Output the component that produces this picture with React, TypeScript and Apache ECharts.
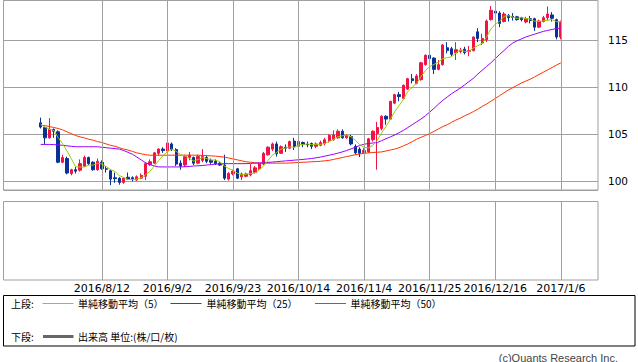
import React, { useEffect, useRef } from 'react';
import * as echarts from 'echarts';

// ---- data ----
const START_DATE = '2016/7/13';
const END_DATE = '2017/1/18';
const FIRST_CANDLE = '2016/7/25';
const tickLabels = ['2016/8/12', '2016/9/2', '2016/9/23', '2016/10/14', '2016/11/4', '2016/11/25', '2016/12/16', '2017/1/6'];
const yMin = 99.04;
const yMax = 119.24;

// closes of the four sessions before the first visible candle (for the 5-day average)
const priorCloses = [106.2, 106.5, 106.0, 105.8];

// [open, close, low, high]
const ohlc: number[][] = [
  [106.2, 105.75, 105.6, 106.75], [105.7, 104.6, 103.95, 105.8], [104.6, 105.5, 104.5, 106.7], [105.5, 105.3, 104.6, 105.6], [105.25, 102.0, 101.9, 105.4],
  [102.0, 102.5, 101.9, 102.8], [102.4, 100.85, 100.7, 102.6], [100.8, 101.2, 100.6, 101.3], [101.2, 101.05, 100.8, 101.5], [101.15, 101.85, 101.0, 102.3],
  [101.6, 102.5, 101.5, 102.7], [102.5, 101.85, 101.7, 102.6], [102.0, 101.2, 101.1, 102.1], [101.2, 102.1, 101.1, 102.4], [102.0, 101.3, 101.2, 102.2],
  [101.3, 101.25, 100.9, 101.6], [101.1, 100.2, 99.55, 101.2], [100.35, 100.25, 99.8, 100.9], [100.3, 99.85, 99.6, 100.4], [99.85, 100.3, 99.7, 100.4],
  [100.4, 100.2, 100.1, 100.9], [100.35, 100.2, 99.95, 100.5], [100.1, 100.45, 100.0, 100.6], [100.3, 100.6, 100.2, 100.8], [100.5, 101.85, 100.1, 102.0],
  [101.75, 102.05, 101.6, 102.3], [101.9, 103.0, 101.8, 103.1], [102.95, 103.4, 102.7, 103.5], [103.4, 103.25, 103.0, 103.6], [103.2, 104.05, 102.9, 104.3],
  [103.95, 103.35, 103.2, 104.1], [103.35, 101.8, 101.6, 103.5], [101.9, 101.6, 101.2, 102.2], [101.7, 102.6, 101.5, 102.8], [102.5, 102.75, 102.2, 103.1],
  [102.5, 101.9, 101.7, 102.6], [101.9, 102.6, 101.8, 102.8], [102.2, 102.6, 102.0, 103.4], [102.5, 102.1, 101.9, 102.7], [102.2, 102.0, 101.8, 102.4],
  [102.1, 101.85, 101.7, 102.3], [101.9, 101.7, 101.6, 102.0], [101.7, 100.3, 100.1, 102.8], [100.2, 100.8, 100.05, 100.95], [100.75, 101.05, 100.6, 101.2],
  [101.3, 100.3, 100.2, 101.4], [100.45, 100.75, 100.1, 100.9], [100.5, 100.75, 100.4, 100.9], [100.65, 101.1, 100.5, 101.8], [100.9, 101.4, 100.8, 101.6],
  [101.3, 101.85, 101.2, 102.0], [101.8, 102.95, 101.7, 103.1], [102.8, 103.6, 102.7, 103.7], [103.4, 103.95, 103.2, 104.1], [103.95, 102.9, 102.6, 104.2],
  [102.95, 103.65, 102.9, 103.8], [103.6, 103.5, 103.1, 103.9], [103.5, 104.2, 103.4, 104.3], [104.25, 103.65, 103.3, 104.6], [103.7, 104.2, 103.6, 104.4],
  [104.1, 103.9, 103.6, 104.2], [103.9, 103.85, 103.6, 104.2], [104.0, 103.7, 103.4, 104.1], [103.7, 103.95, 103.5, 104.1], [103.8, 104.1, 103.7, 104.3],
  [104.0, 104.4, 103.8, 104.6], [104.3, 104.85, 104.1, 105.0], [104.4, 104.9, 104.3, 105.4], [104.6, 105.3, 104.5, 105.5], [105.3, 104.6, 104.5, 105.5],
  [104.6, 104.85, 104.5, 105.0], [104.75, 103.95, 103.8, 104.9], [103.7, 103.0, 102.8, 103.9], [103.4, 102.95, 102.55, 103.6], [103.0, 103.25, 102.9, 103.5],
  [103.1, 104.5, 103.0, 104.6], [104.4, 105.3, 104.2, 105.4], [105.05, 105.7, 101.2, 106.3], [105.6, 106.9, 105.4, 107.0], [106.9, 106.6, 106.0, 107.0],
  [106.6, 108.5, 106.5, 108.5], [108.3, 109.2, 108.2, 109.3], [109.2, 109.0, 108.5, 109.5], [108.8, 110.2, 108.7, 110.3], [109.8, 110.9, 109.7, 111.0],
  [110.9, 110.7, 110.4, 111.4], [110.4, 111.2, 110.3, 111.4], [110.8, 112.6, 110.7, 112.7], [112.4, 113.4, 112.3, 113.5], [113.4, 113.05, 112.4, 113.9],
  [113.1, 111.9, 111.4, 113.2], [111.9, 112.4, 111.8, 112.9], [112.4, 114.5, 112.3, 114.6], [114.2, 113.9, 113.6, 114.8], [114.1, 113.5, 113.3, 114.3],
  [113.65, 114.0, 112.9, 114.8], [113.8, 113.95, 113.6, 114.2], [114.05, 113.7, 113.5, 114.3], [113.8, 113.9, 113.3, 114.4], [113.9, 115.35, 113.8, 115.4],
  [115.9, 115.2, 114.8, 116.3], [114.7, 115.2, 114.5, 115.7], [115.05, 117.05, 114.8, 117.2], [117.2, 118.2, 117.1, 118.65], [118.1, 117.9, 117.2, 118.6],
  [117.9, 116.8, 116.4, 118.1], [117.0, 117.8, 116.9, 118.0], [117.65, 117.4, 117.0, 117.8], [117.55, 117.45, 117.1, 117.9], [117.5, 117.2, 117.1, 117.6],
  [117.4, 117.2, 117.0, 117.5], [116.95, 117.3, 116.8, 117.5], [117.3, 117.1, 116.8, 117.6], [117.3, 116.4, 116.0, 117.4], [116.4, 117.05, 116.3, 117.2],
  [117.0, 117.4, 116.9, 117.6], [117.4, 117.8, 117.1, 118.6], [117.7, 117.35, 117.0, 118.0], [117.2, 115.35, 115.1, 117.3], [115.35, 116.95, 115.1, 117.1],
];

const ma25: number[] = [
  103.9, 103.9, 103.9, 103.88, 103.85, 103.8, 103.75, 103.7, 103.65, 103.65, 103.65, 103.65, 103.65, 103.65, 103.6, 103.55, 103.5, 103.45, 103.4,
  103.25, 103.05, 102.85, 102.55, 102.25, 101.95, 101.75, 101.6, 101.5,
  101.5, 101.5, 101.5, 101.5, 101.5, 101.52, 101.55, 101.6, 101.62, 101.65, 101.7, 101.75, 101.8, 101.82,
  101.85, 101.85, 101.85, 101.85, 101.85, 101.85, 101.87, 101.9, 101.92, 101.95,
  101.98, 102.02, 102.06, 102.1, 102.14, 102.18, 102.22, 102.26,
  102.3, 102.35, 102.4, 102.47, 102.55, 102.65, 102.75, 102.85, 102.97, 103.1, 103.25, 103.42,
  103.6, 103.78, 103.92, 104.0, 104.05, 104.1, 104.3, 104.5, 104.7, 104.9, 105.15, 105.4, 105.7, 106.0, 106.3, 106.6,
  106.95, 107.35, 107.75, 108.2, 108.6, 108.95, 109.3, 109.6, 109.9, 110.25, 110.6, 110.95, 111.4, 111.8, 112.2, 112.6,
  113.05, 113.5, 113.9, 114.35, 114.7, 114.95, 115.15, 115.35, 115.5, 115.65, 115.8, 115.95, 116.05, 116.15, 116.25, 116.3,
];

const ma50: number[] = [
  105.95, 105.9, 105.8, 105.7, 105.6, 105.45, 105.25, 105.05, 104.85, 104.7, 104.6, 104.45, 104.35, 104.2, 104.1, 103.95, 103.8, 103.7, 103.55, 103.4,
  103.3, 103.15, 103.0, 102.9, 102.8, 102.75, 102.75, 102.75, 102.75, 102.75, 102.75, 102.75, 102.75, 102.75, 102.75, 102.75, 102.75, 102.72, 102.7, 102.68,
  102.65, 102.6, 102.55, 102.45, 102.35, 102.25, 102.15, 102.05, 102.0, 101.95, 101.9, 101.9, 101.9, 101.9, 101.9, 101.9, 101.9, 101.92, 101.95, 101.97,
  102.0, 102.02, 102.05, 102.07, 102.1, 102.15, 102.2, 102.3, 102.4, 102.5, 102.6, 102.7, 102.8, 102.88, 102.95, 103.0, 103.04, 103.06, 103.1, 103.2,
  103.3, 103.4, 103.55, 103.75, 103.95, 104.2, 104.45, 104.65, 104.85, 105.05, 105.3, 105.55, 105.8, 106.0, 106.25, 106.5, 106.7, 106.95, 107.15, 107.4,
  107.65, 107.95, 108.2, 108.5, 108.8, 109.1, 109.4, 109.7, 109.95, 110.2, 110.45, 110.65, 110.85, 111.1, 111.35, 111.6, 111.85, 112.1, 112.35, 112.6,
];

// ---- styles ----
const UP = '#f01446';
const DOWN = '#0a3296';
const C_MA5 = '#99cc00';
const C_MA25 = '#9900ff';
const C_MA50 = '#ff3300';
const GRID = '#a0a0a0';
const JP = '"Noto Sans CJK JP", sans-serif';

function weekdays(start: string, end: string): string[] {
  const [y, m, d] = start.split('/').map(Number);
  const [y2, m2, d2] = end.split('/').map(Number);
  const dt = new Date(Date.UTC(y, m - 1, d));
  const endT = Date.UTC(y2, m2 - 1, d2);
  const out: string[] = [];
  while (dt.getTime() <= endT) {
    const wd = dt.getUTCDay();
    if (wd !== 0 && wd !== 6) out.push(`${dt.getUTCFullYear()}/${dt.getUTCMonth() + 1}/${dt.getUTCDate()}`);
    dt.setUTCDate(dt.getUTCDate() + 1);
  }
  return out;
}

export default function App() {
  const ref = useRef<HTMLDivElement>(null);
  useEffect(() => {
    if (!ref.current) return;
    const chart = echarts.init(ref.current, undefined, { renderer: 'svg' });
    const categories = weekdays(START_DATE, END_DATE);
    const offset = categories.indexOf(FIRST_CANDLE);
    const pad = (arr: any[], empty: any) =>
      categories.map((_, i) => (i >= offset && i - offset < arr.length ? arr[i - offset] : empty));

    const closes = ohlc.map((r) => r[1]);
    const allCloses = priorCloses.concat(closes);
    const ma5 = closes.map((_, i) => {
      const w = allCloses.slice(i, i + 5);
      return +(w.reduce((a, b) => a + b, 0) / 5).toFixed(3);
    });

    const vLines = {
      silent: true,
      symbol: 'none',
      label: { show: false },
      lineStyle: { color: GRID, type: 'solid', width: 1 },
      emphasis: { disabled: true },
      data: tickLabels.map((t) => ({ xAxis: t })),
    };

    const gridL = 3.5;
    const gridR = 40;

    chart.setOption({
      animation: false,
      backgroundColor: '#fff',
      textStyle: { fontFamily: 'DejaVu Sans' },
      grid: [
        { left: gridL, right: gridR, top: 0.5, height: 189.5, show: true, borderColor: GRID, borderWidth: 1, backgroundColor: 'transparent' },
        { left: gridL, right: gridR, top: 201.5, height: 78.5, show: true, borderColor: GRID, borderWidth: 1, backgroundColor: 'transparent' },
      ],
      xAxis: [
        {
          type: 'category', gridIndex: 0, data: categories, boundaryGap: true,
          axisLine: { show: false }, axisTick: { show: false }, axisLabel: { show: false }, splitLine: { show: false },
        },
        {
          type: 'category', gridIndex: 1, data: categories, boundaryGap: true,
          axisLine: { show: false }, axisTick: { show: false }, splitLine: { show: false },
          axisLabel: {
            interval: (_i: number, v: string) => tickLabels.includes(v),
            fontSize: 11, fontFamily: 'DejaVu Sans', color: '#000', margin: 3,
          },
        },
      ],
      yAxis: [
        {
          type: 'value', gridIndex: 0, position: 'right', min: yMin, max: yMax, splitNumber: 4, scale: true,
          axisLine: { show: false }, axisTick: { show: false },
          splitLine: { show: true, lineStyle: { color: GRID, width: 1 } },
          axisLabel: {
            fontSize: 10.5, fontFamily: 'DejaVu Sans', color: '#000', margin: 10,
            formatter: (v: number) => (Math.abs(v % 5) < 1e-6 ? String(v) : ''),
          },
        },
        {
          type: 'value', gridIndex: 1, min: 0, max: 1,
          axisLine: { show: false }, axisTick: { show: false }, axisLabel: { show: false }, splitLine: { show: false },
        },
      ],
      series: [
        {
          name: 'grid-top', type: 'line', xAxisIndex: 0, yAxisIndex: 0, z: 1,
          data: pad([], '-'), symbol: 'none', markLine: vLines,
        },
        {
          name: '出来高', type: 'bar', xAxisIndex: 1, yAxisIndex: 1, z: 1,
          data: pad([], '-'), markLine: vLines,
        },
        {
          name: 'price', type: 'candlestick', xAxisIndex: 0, yAxisIndex: 0, z: 3,
          data: pad(ohlc, ['-', '-', '-', '-']),
          barWidth: 2.8,
          itemStyle: { color: UP, color0: DOWN, borderColor: UP, borderColor0: DOWN, borderWidth: 1 },
        },
        {
          name: '単純移動平均（50）', type: 'line', xAxisIndex: 0, yAxisIndex: 0, z: 4,
          data: pad(ma50, '-'), symbol: 'none', lineStyle: { color: C_MA50, width: 1 },
        },
        {
          name: '単純移動平均（25）', type: 'line', xAxisIndex: 0, yAxisIndex: 0, z: 4,
          data: pad(ma25, '-'), symbol: 'none', lineStyle: { color: C_MA25, width: 1 },
        },
        {
          name: '単純移動平均（5）', type: 'line', xAxisIndex: 0, yAxisIndex: 0, z: 5,
          data: pad(ma5, '-'), symbol: 'none', lineStyle: { color: C_MA5, width: 1 },
        },
      ],
      graphic: [
        { type: 'rect', silent: true, shape: { x: 3.5, y: 295.5, width: 631.5, height: 50.5 }, style: { fill: '#fff', stroke: '#000', lineWidth: 1 } },
        { type: 'text', silent: true, style: { x: 11, y: 303.5, text: '上段:', font: `10px ${JP}`, fill: '#000', verticalAlign: 'middle' } },
        { type: 'line', silent: true, shape: { x1: 42.5, y1: 303.5, x2: 73.5, y2: 303.5 }, style: { stroke: C_MA5, lineWidth: 1 } },
        { type: 'text', silent: true, style: { x: 78, y: 303.5, text: '単純移動平均（5）', font: `10px ${JP}`, fill: '#000', verticalAlign: 'middle' } },
        { type: 'line', silent: true, shape: { x1: 170.5, y1: 303.5, x2: 201.5, y2: 303.5 }, style: { stroke: C_MA25, lineWidth: 1 } },
        { type: 'text', silent: true, style: { x: 206.5, y: 303.5, text: '単純移動平均（25）', font: `10px ${JP}`, fill: '#000', verticalAlign: 'middle' } },
        { type: 'line', silent: true, shape: { x1: 315, y1: 303.5, x2: 346, y2: 303.5 }, style: { stroke: C_MA50, lineWidth: 1 } },
        { type: 'text', silent: true, style: { x: 350.5, y: 303.5, text: '単純移動平均（50）', font: `10px ${JP}`, fill: '#000', verticalAlign: 'middle' } },
        { type: 'text', silent: true, style: { x: 11, y: 336.5, text: '下段:', font: `10px ${JP}`, fill: '#000', verticalAlign: 'middle' } },
        { type: 'line', silent: true, shape: { x1: 43, y1: 336.5, x2: 73.5, y2: 336.5 }, style: { stroke: '#666', lineWidth: 3 } },
        { type: 'text', silent: true, style: { x: 78, y: 336.5, text: '出来高 単位:(株/口/枚)', font: `10px ${JP}`, fill: '#000', verticalAlign: 'middle' } },
        { type: 'text', silent: true, style: { x: 618, y: 357.5, text: '(c)Quants Research Inc.', font: '11px "Liberation Sans", sans-serif', fill: '#444', align: 'right', verticalAlign: 'middle' } },
      ],
    });
    return () => chart.dispose();
  }, []);

  return (
    <div
      ref={ref}
      style={{ position: 'fixed', left: 0, top: 0, width: 638, height: 362, background: '#fff' }}
    />
  );
}
